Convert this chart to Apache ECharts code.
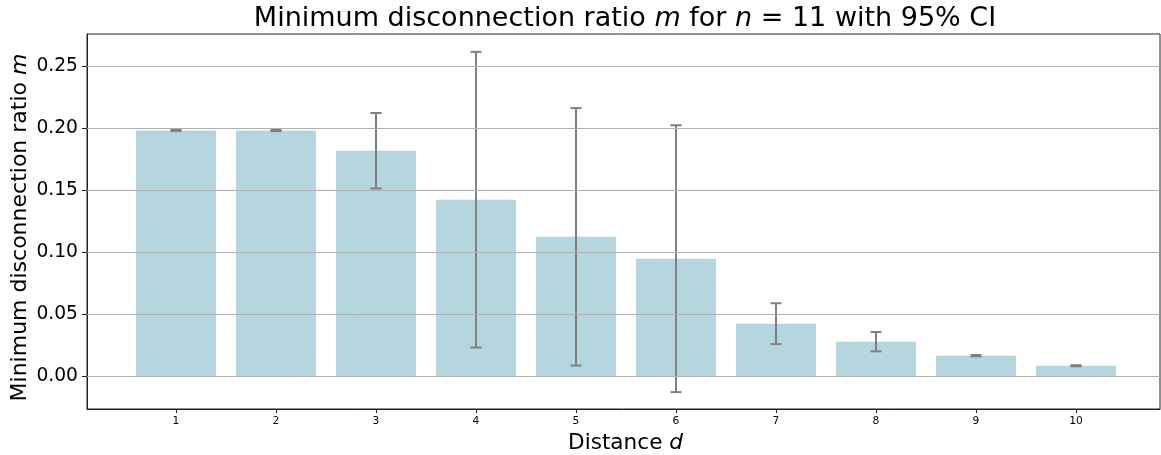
<!DOCTYPE html>
<html>
<head>
<meta charset="utf-8">
<script src="https://cdn.jsdelivr.net/npm/echarts@6/dist/echarts.min.js"></script>
<style>
  html, body { margin: 0; padding: 0; background: #fff; }
  #chart { width: 1161px; height: 455px; }
</style>
</head>
<body>
<div id="chart"></div>
<script>
// Distance d on the x axis
const distances = [1, 2, 3, 4, 5, 6, 7, 8, 9, 10];
// Mean minimum disconnection ratio per distance
const ratioMean = [0.198, 0.198, 0.1817, 0.1422, 0.1123, 0.0946, 0.0422, 0.0277, 0.0164, 0.0083];
// Half-width of the 95% confidence interval
const ciHalf = [0.0005, 0.0005, 0.0304, 0.1192, 0.1038, 0.1076, 0.0165, 0.0078, 0.0005, 0.0004];
// Tick positions
const yTicks = [0, 0.05, 0.10, 0.15, 0.20, 0.25];
const xTicks = distances;

const FONT = 'DejaVu Sans';
const chart = echarts.init(document.getElementById('chart'), null, { renderer: 'canvas' });

const barData = distances.map((d, i) => [d, ratioMean[i]]);
const errData = distances.map((d, i) => [d, ratioMean[i] - ciHalf[i], ratioMean[i] + ciHalf[i]]);

const option = {
  animation: false,
  backgroundColor: '#ffffff',
  title: {
    text: '{a|Minimum disconnection ratio }{i|m}{a| for }{i|n}{a| = 11 with 95% CI}',
    left: 625,
    top: 5,
    padding: 0,
    textAlign: 'center',
    textStyle: {
      fontWeight: 'normal',
      rich: {
        a: { fontFamily: FONT, fontSize: 27, fontWeight: 'normal', color: '#000' },
        i: { fontFamily: FONT, fontSize: 27, fontWeight: 'normal', fontStyle: 'italic', color: '#000' }
      }
    }
  },
  grid: {
    left: 87, top: 34, right: 1, bottom: 46,
    outerBoundsMode: 'none',
    containLabel: false,
    show: true, borderColor: '#222', borderWidth: 1, backgroundColor: 'transparent'
  },
  xAxis: {
    type: 'value',
    min: 0.11,
    max: 10.84,
    name: '{a|Distance }{i|d}',
    nameLocation: 'middle',
    nameGap: 22,
    nameTextStyle: {
      padding: [0, 0, 0, 4],
      rich: {
        a: { fontFamily: FONT, fontSize: 21.6, color: '#000' },
        i: { fontFamily: FONT, fontSize: 21.6, fontStyle: 'italic', color: '#000' }
      }
    },
    axisLine: { show: true, onZero: false, lineStyle: { color: '#222', width: 1 } },
    axisTick: { show: true, customValues: xTicks, length: 4, lineStyle: { color: '#222' } },
    axisLabel: { customValues: xTicks, fontFamily: FONT, fontSize: 10.7, color: '#000', margin: 7 },
    splitLine: { show: false }
  },
  yAxis: {
    type: 'value',
    min: -0.0266,
    max: 0.2758,
    name: '{a|Minimum disconnection ratio }{i|m}',
    nameLocation: 'middle',
    nameGap: 56,
    nameMoveOverlap: false,
    nameRotate: 90,
    nameTextStyle: {
      padding: [0, 12, 0, 0],
      rich: {
        a: { fontFamily: FONT, fontSize: 22, color: '#000' },
        i: { fontFamily: FONT, fontSize: 22, fontStyle: 'italic', color: '#000' }
      }
    },
    axisLine: { show: true, onZero: false, lineStyle: { color: '#222', width: 1 } },
    axisTick: { show: true, customValues: yTicks, length: 5, lineStyle: { color: '#222' } },
    axisLabel: {
      customValues: yTicks, fontFamily: FONT, fontSize: 18.7, color: '#000', margin: 9,
      formatter: v => v.toFixed(2)
    },
    splitLine: { show: false }
  },
  series: [
    {
      type: 'bar',
      data: barData,
      barWidth: 80,
      z: 2,
      itemStyle: { color: '#b5d5df' },
      silent: true
    },
    {
      // horizontal grid lines, drawn over the bars
      type: 'line',
      data: [],
      z: 3,
      silent: true,
      markLine: {
        silent: true,
        symbol: ['none', 'none'],
        label: { show: false },
        lineStyle: { type: 'solid', color: '#b0b0b0', width: 1 },
        data: yTicks.map(v => ({ yAxis: v }))
      }
    },
    {
      // 95% confidence interval whiskers
      type: 'custom',
      z: 4,
      silent: true,
      data: errData,
      renderItem: function (params, api) {
        const x = api.value(0);
        const lo = api.coord([x, api.value(1)]);
        const hi = api.coord([x, api.value(2)]);
        const cap = 5.5;
        const style = { stroke: '#808080', lineWidth: 2 };
        return {
          type: 'group',
          children: [
            { type: 'line', shape: { x1: lo[0], y1: lo[1], x2: hi[0], y2: hi[1] }, style },
            { type: 'line', shape: { x1: hi[0] - cap, y1: hi[1], x2: hi[0] + cap, y2: hi[1] }, style },
            { type: 'line', shape: { x1: lo[0] - cap, y1: lo[1], x2: lo[0] + cap, y2: lo[1] }, style }
          ]
        };
      }
    }
  ]
};

chart.setOption(option);
</script>
</body>
</html>
